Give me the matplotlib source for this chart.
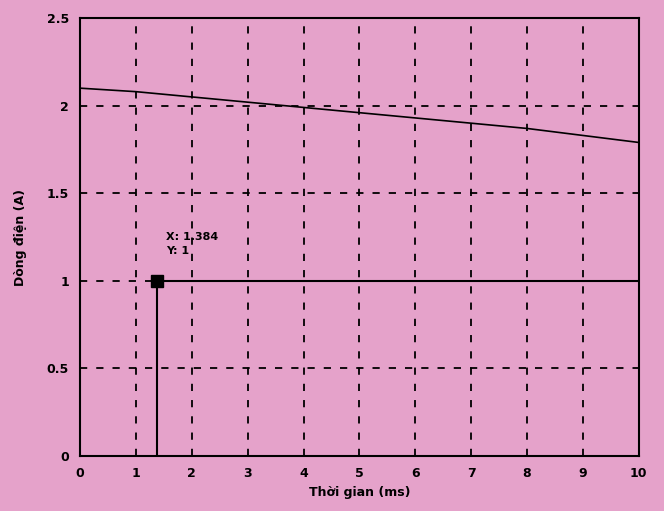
import matplotlib
matplotlib.use("Agg")
import matplotlib.pyplot as plt

# data
t_curve = [0, 1, 2, 3, 4, 5, 6, 7, 8, 9, 10]
i_curve = [2.10, 2.08, 2.05, 2.02, 1.99, 1.96, 1.93, 1.90, 1.87, 1.83, 1.79]
t_level = [1.384, 10]
i_level = [1, 1]
mark_x = 1.384
mark_y = 1
xticks = list(range(0, 11))
yticks = [0, 0.5, 1, 1.5, 2, 2.5]
ytick_labels = ["0", "0.5", "1", "1.5", "2", "2.5"]

bg = "#e5a2ca"
fig = plt.figure(figsize=(6.64, 5.11), dpi=100, facecolor=bg)
ax = fig.add_axes([0.1205, 0.1076, 0.8415, 0.857])
ax.set_facecolor(bg)

ax.plot(t_curve, i_curve, color="black", lw=1.2)
ax.plot(t_level, i_level, color="black", lw=1.5)
ax.plot([mark_x, mark_x], [0, mark_y], color="black", lw=1.5)
ax.plot([mark_x], [mark_y], marker="s", color="black", markersize=9, ls="none")
ax.text(mark_x + 0.15, mark_y + 0.28, "X: 1.384\nY: 1", fontsize=8, fontweight="bold",
        linespacing=1.5, va="top", ha="left")

ax.set_xlim(0, 10)
ax.set_ylim(0, 2.5)
ax.set_xticks(xticks)
ax.set_yticks(yticks)
ax.set_yticklabels(ytick_labels)
ax.grid(True, color="black", ls=(0, (4, 5)), lw=1.3)
ax.tick_params(length=0, labelsize=9, pad=8)
for lab in ax.get_xticklabels() + ax.get_yticklabels():
    lab.set_fontweight("bold")
for s in ax.spines.values():
    s.set_linewidth(1.5)
ax.set_xlabel("Thời gian (ms)", fontsize=9, fontweight="bold")
ax.set_ylabel("Dòng điện (A)", fontsize=9, fontweight="bold", labelpad=14)

fig.savefig("out.png", dpi=100, facecolor=bg)
